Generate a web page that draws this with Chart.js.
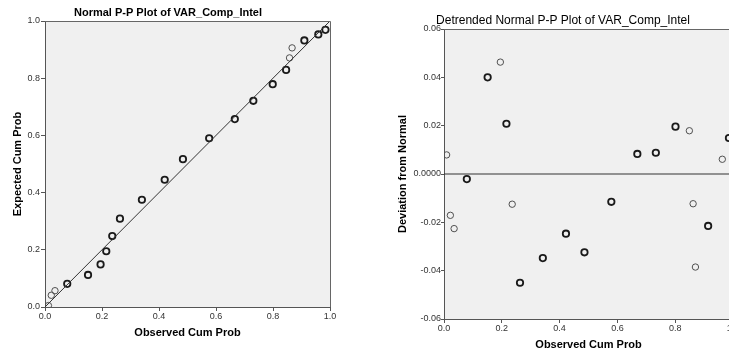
<!DOCTYPE html>
<html><head><meta charset="utf-8">
<script src="https://cdn.jsdelivr.net/npm/chart.js@4"></script>
<style>
html,body{margin:0;padding:0;background:#fff;overflow:hidden;width:729px;height:350px;}
#wrap{position:relative;width:729px;height:350px;overflow:hidden;}
#c1{position:absolute;left:0;top:0;}
#c2{position:absolute;left:365px;top:0;}
</style></head><body>
<div id="wrap"><canvas id="c1" width="365" height="350"></canvas><canvas id="c2" width="400" height="352"></canvas></div>
<script>
// ---- Data: Normal P-P plot ----
const ppObsBold = [0.078,0.151,0.195,0.215,0.236,0.263,0.340,0.420,0.484,0.576,0.666,0.731,0.799,0.846,0.910,0.959,0.984];
const ppExpBold = [0.081,0.112,0.149,0.195,0.248,0.309,0.375,0.445,0.517,0.590,0.657,0.721,0.779,0.829,0.932,0.953,0.969];
const ppObsLight = [0.012,0.022,0.035,0.858,0.867];
const ppExpLight = [0.005,0.041,0.057,0.871,0.906];
const ppRefLine = [0, 1];
const ppTickValues = [0,0.2,0.4,0.6,0.8,1.0];
const ppTickLabels = ['0.0','0.2','0.4','0.6','0.8','1.0'];

// ---- Data: Detrended Normal P-P plot ----
const dtObsBold = [0.079,0.151,0.216,0.263,0.342,0.422,0.486,0.579,0.669,0.733,0.801,0.914,0.986];
const dtDevBold = [-0.0021,0.0400,0.0208,-0.0450,-0.0348,-0.0247,-0.0324,-0.0115,0.0083,0.0088,0.0196,-0.0215,0.0149];
const dtObsLight = [0.009,0.022,0.035,0.195,0.236,0.849,0.862,0.870,0.963];
const dtDevLight = [0.0079,-0.0171,-0.0226,0.0463,-0.0125,0.0179,-0.0123,-0.0385,0.0061];
const dtZeroLine = [0, 1];
const dtXTickValues = [0,0.2,0.4,0.6,0.8,1.0];
const dtXTickLabels = ['0.0','0.2','0.4','0.6','0.8','1.0'];
const dtYTickValues = [-0.06,-0.04,-0.02,0,0.02,0.04,0.06];
const dtYTickLabels = ['-0.06','-0.04','-0.02','0.0000','0.02','0.04','0.06'];

const FONT = '"Liberation Sans", Arial, Helvetica, sans-serif';
Chart.defaults.font.family = FONT;

const pts = (xs, ys) => xs.map((x, i) => ({x, y: ys[i]}));

const framePlugin = {
  id: 'frameBg',
  beforeDraw(chart) {
    const {ctx, chartArea: a} = chart;
    ctx.save();
    ctx.fillStyle = '#f0f0f0';
    ctx.fillRect(a.left, a.top, a.right - a.left, a.bottom - a.top);
    ctx.restore();
  },
  afterDraw(chart, args, opts) {
    const {ctx, chartArea: a} = chart;
    ctx.save();
    ctx.strokeStyle = '#666';
    ctx.lineWidth = 1;
    ctx.beginPath();
    ctx.moveTo(a.left, Math.round(a.top) + 0.5);
    ctx.lineTo(Math.round(a.right) + 0.5, Math.round(a.top) + 0.5);
    ctx.lineTo(Math.round(a.right) + 0.5, a.bottom);
    ctx.stroke();
    if (opts && opts.title) {
      ctx.fillStyle = '#000';
      ctx.font = opts.titleFont;
      ctx.textAlign = 'center';
      ctx.textBaseline = 'middle';
      ctx.fillText(opts.title, opts.titleX, opts.titleY);
    }
    ctx.restore();
  }
};

function axis(opts) {
  return {
    type: 'linear', min: opts.min, max: opts.max, position: opts.position,
    afterBuildTicks: s => { s.ticks = opts.values.map(v => ({value: v})); },
    ticks: { callback: (v, i) => opts.labels[i], font: {size: 9}, color: '#333',
             padding: opts.tickPad, maxRotation: 0, autoSkip: false },
    grid: { drawOnChartArea: false, drawTicks: true, tickLength: opts.tickLen, color: '#555' },
    border: { color: '#555', width: 1 },
    title: { display: true, text: opts.title, color: '#000',
             font: {size: 11, weight: 'bold'}, padding: opts.titlePad },
    afterFit: s => {
      if (opts.position === 'bottom') { s.height = opts.size; s.paddingLeft = 0; s.paddingRight = 0; }
      else { s.width = opts.size; s.paddingTop = 0; s.paddingBottom = 0; }
    }
  };
}

const boldStyle = { showLine: false, pointRadius: 3.2, pointBorderWidth: 1.8, pointBorderColor: '#1a1a1a', pointBackgroundColor: 'rgba(0,0,0,0)', pointHoverRadius: 3.2 };
const lightStyle = { showLine: false, pointRadius: 3.2, pointBorderWidth: 1, pointBorderColor: '#505050', pointBackgroundColor: 'rgba(0,0,0,0)', pointHoverRadius: 3.2 };

new Chart(document.getElementById('c1'), {
  type: 'scatter',
  data: { datasets: [
    { type: 'line', data: pts(ppRefLine, ppRefLine), borderColor: '#333', borderWidth: 1, pointRadius: 0, fill: false },
    Object.assign({ data: pts(ppObsBold, ppExpBold) }, boldStyle),
    Object.assign({ data: pts(ppObsLight, ppExpLight) }, lightStyle)
  ]},
  options: {
    responsive: false, animation: false, events: [],
    layout: { padding: { top: 21, right: 35, bottom: 0, left: 0 } },
    plugins: { legend: {display: false}, tooltip: {enabled: false},
      frameBg: { title: 'Normal P-P Plot of VAR_Comp_Intel', titleFont: 'bold 11px ' + FONT, titleX: 168, titleY: 13 } },
    scales: {
      x: axis({ min: 0, max: 1, position: 'bottom', values: ppTickValues, labels: ppTickLabels,
                tickPad: 0, tickLen: 4, title: 'Observed Cum Prob', titlePad: {top: 0, bottom: 10.9}, size: 43 }),
      y: axis({ min: 0, max: 1, position: 'left', values: ppTickValues, labels: ppTickLabels,
                tickPad: 1, tickLen: 4, title: 'Expected Cum Prob', titlePad: {top: 10.9, bottom: 0}, size: 45 })
    }
  },
  plugins: [framePlugin]
});

new Chart(document.getElementById('c2'), {
  type: 'scatter',
  data: { datasets: [
    { type: 'line', data: pts(dtZeroLine, [0, 0]), borderColor: '#333', borderWidth: 1, pointRadius: 0, fill: false },
    Object.assign({ data: pts(dtObsBold, dtDevBold) }, boldStyle),
    Object.assign({ data: pts(dtObsLight, dtDevLight) }, lightStyle)
  ]},
  options: {
    responsive: false, animation: false, events: [],
    layout: { padding: { top: 29, right: 32, bottom: 0, left: 0 } },
    plugins: { legend: {display: false}, tooltip: {enabled: false},
      frameBg: { title: 'Detrended Normal P-P Plot of VAR_Comp_Intel', titleFont: '12px ' + FONT, titleX: 198, titleY: 20.5 } },
    scales: {
      x: axis({ min: 0, max: 1, position: 'bottom', values: dtXTickValues, labels: dtXTickLabels,
                tickPad: 0, tickLen: 4, title: 'Observed Cum Prob', titlePad: {top: 0, bottom: 0.4}, size: 33 }),
      y: axis({ min: -0.06, max: 0.06, position: 'left', values: dtYTickValues, labels: dtYTickLabels,
                tickPad: 0, tickLen: 3, title: 'Deviation from Normal', titlePad: {top: 31.4, bottom: 0}, size: 79 })
    }
  },
  plugins: [framePlugin]
});
</script>
</body></html>
